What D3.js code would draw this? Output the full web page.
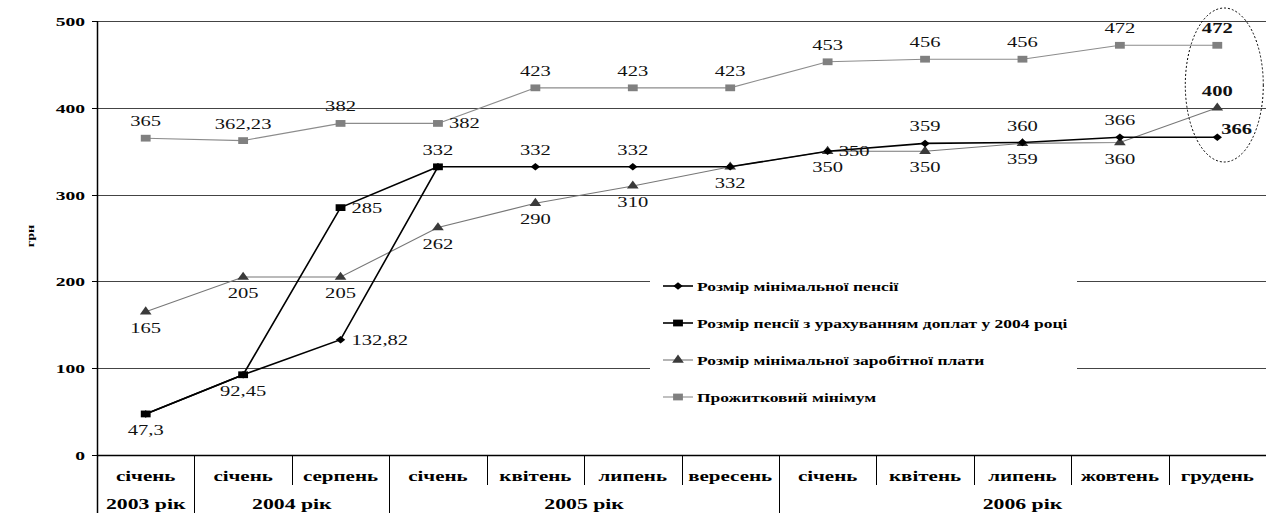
<!DOCTYPE html>
<html lang="uk">
<head>
<meta charset="utf-8"/>
<title>Pensions chart</title>
<script src="https://d3js.org/d3.v7.min.js"></script>
<style>
  body { margin: 0; background: #fff; }
</style>
</head>
<body>
<div id="chart"></div>
<script>
// data
var months = ["січень", "січень", "серпень", "січень", "квітень", "липень", "вересень",
              "січень", "квітень", "липень", "жовтень", "грудень"];
var years = ["2003 рік", "2004 рік", "2005 рік", "2006 рік"];
var yearSpans = [1, 2, 4, 5];
var yTicks = [0, 100, 200, 300, 400, 500];

var seriesNames = ["Розмір мінімальної пенсії",
                   "Розмір пенсії з урахуванням доплат у 2004 році",
                   "Розмір мінімальної заробітної плати",
                   "Прожитковий мінімум"];
var minPension  = [47.3, 92.45, 132.82, 332, 332, 332, 332, 350, 359, 360, 366, 366];
var pensionSupp = [47.3, 92.45, 285, 332, null, null, null, null, null, null, null, null];
var minWage     = [165, 205, 205, 262, 290, 310, 332, 350, 350, 359, 360, 400];
var subsistence = [365, 362.23, 382, 382, 423, 423, 423, 453, 456, 456, 472, 472];

// where each value label goes: a = above, b = below, r = right, ar = above right, "" = none
var placePension  = ["", "", "r", "", "a", "a", "", "r", "a", "a", "a", "ar"];
var placeSupp     = ["b", "b", "r", "a", "", "", "", "", "", "", "", ""];
var placeWage     = ["b", "b", "b", "b", "b", "b", "b", "b", "b", "b", "b", "a"];
var placeSubs     = ["a", "a", "a", "r", "a", "a", "a", "a", "a", "a", "a", "a"];

var w = 1266, h = 529;
var SX = 1.5; // the picture is stretched sideways
var FONT = "'Liberation Serif', 'Times New Roman', serif";

var x = d3.scaleBand().domain(d3.range(months.length)).range([97, 1266]).padding(0);
var y = d3.scaleLinear().domain([0, 500]).range([455, 21]);
var cx = function(i) { return x(i) + x.bandwidth() / 2; };

var svg = d3.select("#chart").append("svg")
    .attr("width", w).attr("height", h)
    .attr("font-family", FONT);

function stext(g, tx, ty, str, size, bold, anchor, fill, sx) {
    return g.append("text")
        .attr("transform", "translate(" + tx + "," + ty + ") scale(" + (sx || SX) + ",1)")
        .attr("text-anchor", anchor || "start")
        .attr("font-family", FONT)
        .attr("font-size", size)
        .attr("font-weight", bold ? "bold" : "normal")
        .attr("fill", fill || "#000")
        .text(str);
}

// gridlines
svg.append("g").selectAll("line").data(yTicks.filter(function(d) { return d > 0; }))
    .enter().append("line")
    .attr("x1", 97).attr("x2", 1266)
    .attr("y1", function(d) { return Math.round(y(d)) + 0.5; })
    .attr("y2", function(d) { return Math.round(y(d)) + 0.5; })
    .attr("stroke", "#444").attr("stroke-width", 1);

// y axis
var yg = svg.append("g");
yg.append("line").attr("x1", 97.5).attr("x2", 97.5).attr("y1", 21).attr("y2", 513)
    .attr("stroke", "#000").attr("stroke-width", 1.5);
yTicks.forEach(function(t) {
    var py = Math.round(y(t)) + 0.5;
    yg.append("line").attr("x1", 92).attr("x2", 97).attr("y1", py).attr("y2", py).attr("stroke", "#000");
    stext(yg, 85, py + 4.5, t, 13.5, true, "end", "#000", 1.45);
});
yg.append("text")
    .attr("transform", "translate(34,236) rotate(-90) scale(1.3,1)")
    .attr("text-anchor", "middle").attr("font-size", 11).attr("font-weight", "bold")
    .attr("font-family", FONT)
    .text("грн");

// x axis: two rows, months and years
var xg = svg.append("g");
xg.append("line").attr("x1", 97).attr("x2", 1266).attr("y1", 455.5).attr("y2", 455.5)
    .attr("stroke", "#000").attr("stroke-width", 1.5);
months.forEach(function(m, i) {
    if (i > 0) {
        xg.append("line").attr("x1", Math.round(x(i)) + 0.5).attr("x2", Math.round(x(i)) + 0.5)
            .attr("y1", 455).attr("y2", 485).attr("stroke", "#000");
    }
    stext(xg, cx(i), 481, m, 14, true, "middle");
});
var start = 0;
years.forEach(function(yr, j) {
    var x0 = x(start), x1 = x(start + yearSpans[j] - 1) + x.bandwidth();
    xg.append("line").attr("x1", Math.round(x0) + 0.5).attr("x2", Math.round(x0) + 0.5)
        .attr("y1", 455).attr("y2", 513).attr("stroke", "#000");
    stext(xg, (x0 + x1) / 2, 509, yr, 14.5, true, "middle");
    start += yearSpans[j];
});

// series (markers: symbol, size, rotation, sideways stretch)
var series = [
    {name: seriesNames[0], values: minPension,  place: placePension, line: "#000", lw: 1.6, fill: "#000",
     shape: d3.symbolSquare, size: 28, rot: 45, sx: 1.25},
    {name: seriesNames[1], values: pensionSupp, place: placeSupp,    line: "#000", lw: 1.6, fill: "#000",
     shape: d3.symbolSquare, size: 46, rot: 0, sx: 1.45},
    {name: seriesNames[2], values: minWage,     place: placeWage,    line: "#777", lw: 1.1, fill: "#3a3a3a",
     shape: d3.symbolTriangle, size: 38, rot: 0, sx: 1.25},
    {name: seriesNames[3], values: subsistence, place: placeSubs,    line: "#8c8c8c", lw: 1.1, fill: "#808080",
     shape: d3.symbolSquare, size: 46, rot: 0, sx: 1.45}
];

function markerTransform(s, px, py) {
    return "translate(" + px + "," + py + ") scale(" + s.sx + ",1) rotate(" + s.rot + ")";
}

var line = d3.line()
    .defined(function(d) { return d != null; })
    .x(function(d, i) { return cx(i); })
    .y(function(d) { return y(d); });

var plot = svg.append("g");
// draw back to front
[3, 2, 0, 1].forEach(function(k) {
    var s = series[k];
    plot.append("path").attr("d", line(s.values)).attr("fill", "none")
        .attr("stroke", s.line).attr("stroke-width", s.lw);
});
[3, 2, 0, 1].forEach(function(k) {
    var s = series[k];
    plot.selectAll(null).data(s.values.map(function(v, i) { return {v: v, i: i}; })
            .filter(function(d) { return d.v != null; }))
        .enter().append("path")
        .attr("transform", function(d) { return markerTransform(s, cx(d.i), y(d.v)); })
        .attr("d", d3.symbol().type(s.shape).size(s.size))
        .attr("fill", s.fill);
});

// value labels
var fmt = function(v) { return String(v).replace(".", ","); };
var labels = svg.append("g");
var LS = 14.5, LSX = 1.42;
series.forEach(function(s) {
    s.values.forEach(function(v, i) {
        var p = s.place[i];
        if (v == null || !p) return;
        var px = cx(i), py = y(v);
        var last = i === months.length - 1;
        if (p === "a") stext(labels, px, py - 12, fmt(v), LS, last, "middle", "#111", LSX);
        else if (p === "b") stext(labels, px, py + 21, fmt(v), LS, last, "middle", "#111", LSX);
        else if (p === "r") stext(labels, px + 11, py + 5, fmt(v), LS, last, "start", "#111", LSX);
        else if (p === "ar") stext(labels, px + 4, py - 3, fmt(v), LS, true, "start", "#111", LSX);
    });
});

// dotted ellipse around the last month
svg.append("ellipse").attr("cx", cx(11) + 7).attr("cy", 85).attr("rx", 39).attr("ry", 77)
    .attr("fill", "none").attr("stroke", "#000").attr("stroke-width", 1)
    .attr("stroke-dasharray", "2,2");

// legend
var lg = svg.append("g");
lg.append("rect").attr("x", 650).attr("y", 266).attr("width", 427).attr("height", 150).attr("fill", "#fff");
series.forEach(function(s, k) {
    var ly = 286 + k * 37;
    lg.append("line").attr("x1", 663).attr("x2", 693).attr("y1", ly).attr("y2", ly)
        .attr("stroke", s.line).attr("stroke-width", s.lw);
    lg.append("path").attr("transform", markerTransform(s, 678, ly))
        .attr("d", d3.symbol().type(s.shape).size(s.size)).attr("fill", s.fill);
    stext(lg, 697, ly + 4.5, s.name, 12.5, true, "start", "#000", 1.4);
});
</script>
</body>
</html>
